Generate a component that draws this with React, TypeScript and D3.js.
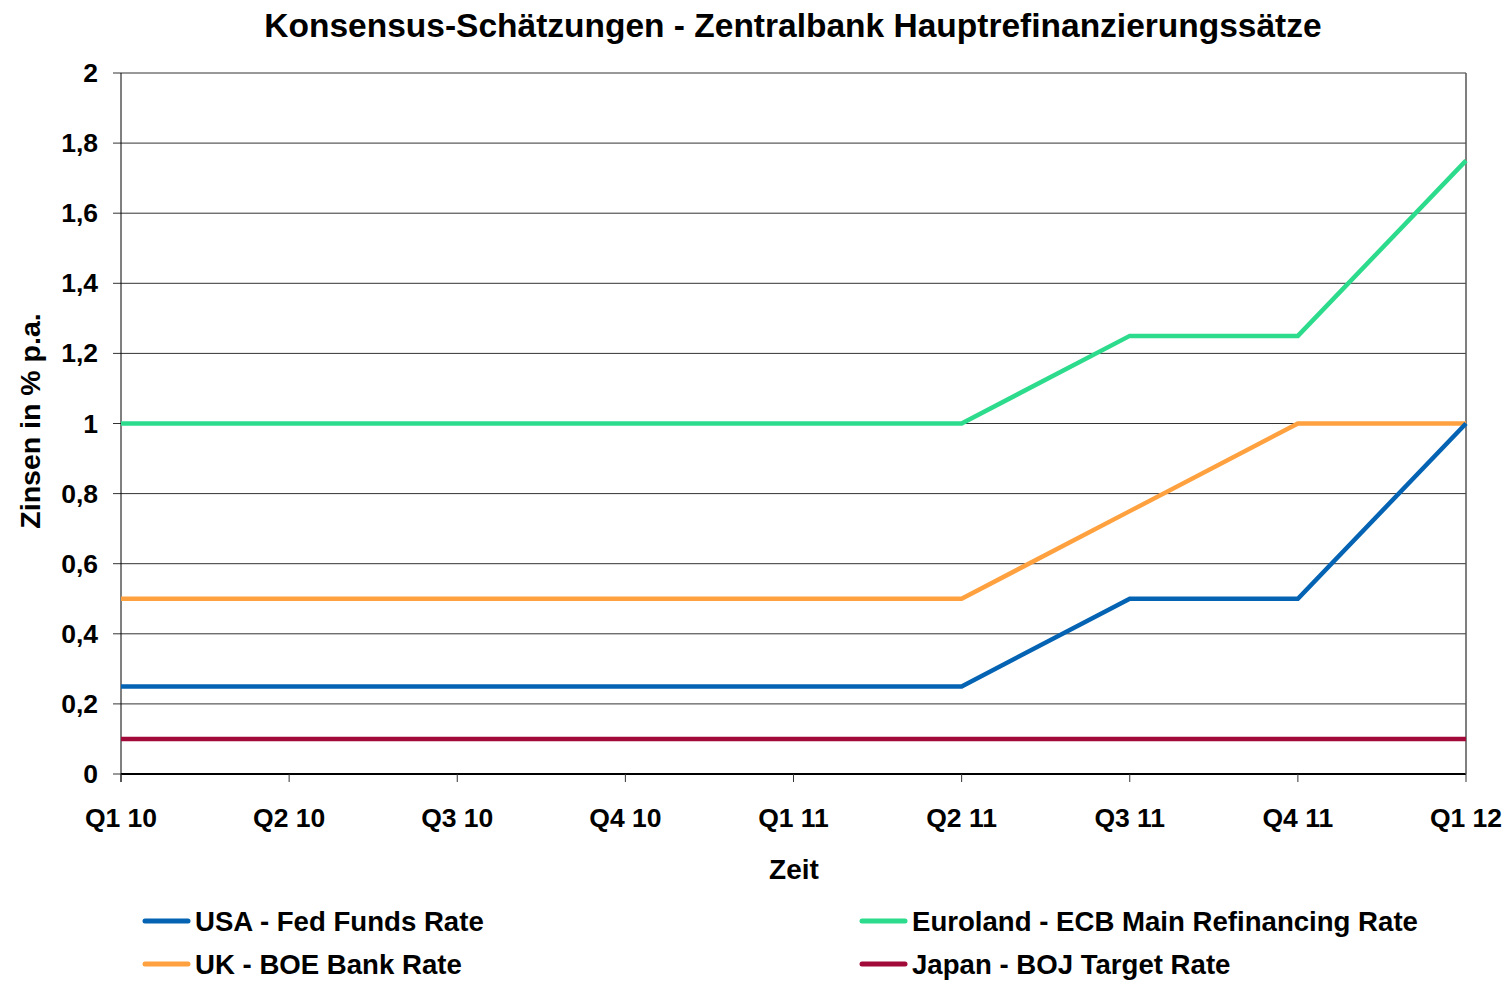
import React from "react";
import * as d3 from "d3";

const categories = ["Q1 10", "Q2 10", "Q3 10", "Q4 10", "Q1 11", "Q2 11", "Q3 11", "Q4 11", "Q1 12"];
const usaValues = [0.25, 0.25, 0.25, 0.25, 0.25, 0.25, 0.5, 0.5, 1];
const ukValues = [0.5, 0.5, 0.5, 0.5, 0.5, 0.5, 0.75, 1, 1];
const euroValues = [1, 1, 1, 1, 1, 1, 1.25, 1.25, 1.75];
const japanValues = [0.1, 0.1, 0.1, 0.1, 0.1, 0.1, 0.1, 0.1, 0.1];
const yTicks = [0, 0.2, 0.4, 0.6, 0.8, 1, 1.2, 1.4, 1.6, 1.8, 2];

const series = [
  { name: "USA - Fed Funds Rate", values: usaValues, color: "#0563b3" },
  { name: "Euroland - ECB Main Refinancing Rate", values: euroValues, color: "#2ddb8c" },
  { name: "UK - BOE Bank Rate", values: ukValues, color: "#ffa13f" },
  { name: "Japan - BOJ Target Rate", values: japanValues, color: "#a20a3a" },
];

const W = 1511, H = 981;
const left = 121, right = 1466, top = 73, bottom = 774;
const font = "'Liberation Sans', Arial, sans-serif";

export default function App() {
  const x = d3.scalePoint<string>().domain(categories).range([left, right]);
  const y = d3.scaleLinear().domain([0, 2]).range([bottom, top]);
  const line = d3.line<number>().x((_, i) => x(categories[i])!).y((d) => y(d));
  const fmt = (v: number) => String(+v.toFixed(1)).replace(".", ",");

  const legendPos = [
    { lx: 145, ty: 921 },
    { lx: 862, ty: 921 },
    { lx: 145, ty: 964 },
    { lx: 862, ty: 964 },
  ];

  return (
    <svg width={W} height={H} style={{ position: "absolute", left: 0, top: 0, background: "#fff" }} fontFamily={font}>
      <rect x={0} y={0} width={W} height={H} fill="#fff" />
      <text x={793} y={25} textAnchor="middle" dominantBaseline="central" fontSize={33.5} fontWeight="bold">
        Konsensus-Schätzungen - Zentralbank Hauptrefinanzierungssätze
      </text>
      {yTicks.map((t) => (
        <g key={t}>
          <line x1={left} x2={right} y1={y(t)} y2={y(t)} stroke={t === 0 ? "#000" : "#333"} strokeWidth={t === 0 ? 2 : 1} />
          <line x1={113} x2={left} y1={y(t)} y2={y(t)} stroke="#333" strokeWidth={1} />
          <text x={98} y={y(t)} textAnchor="end" dominantBaseline="central" fontSize={26.5} fontWeight="bold">
            {fmt(t)}
          </text>
        </g>
      ))}
      <line x1={left} x2={left} y1={top} y2={bottom + 8} stroke="#000" strokeWidth={1} />
      <line x1={right} x2={right} y1={top} y2={bottom} stroke="#555" strokeWidth={1.5} />
      {categories.map((c) => (
        <g key={c}>
          <line x1={x(c)!} x2={x(c)!} y1={bottom} y2={bottom + 8} stroke="#333" strokeWidth={1} />
          <text x={x(c)!} y={818} textAnchor="middle" dominantBaseline="central" fontSize={26.5} fontWeight="bold">
            {c}
          </text>
        </g>
      ))}
      <text x={794} y={869} textAnchor="middle" dominantBaseline="central" fontSize={28} fontWeight="bold">
        Zeit
      </text>
      <text
        transform={`translate(30,421) rotate(-90)`}
        textAnchor="middle"
        dominantBaseline="central"
        fontSize={28.5}
        fontWeight="bold"
      >
        Zinsen in % p.a.
      </text>
      {[...series].reverse().map((s) => (
        <path key={s.name} d={line(s.values)!} fill="none" stroke={s.color} strokeWidth={4.5} strokeLinejoin="miter" />
      ))}
      {series.map((s, i) => (
        <g key={s.name}>
          <line x1={legendPos[i].lx} x2={legendPos[i].lx + 43} y1={legendPos[i].ty} y2={legendPos[i].ty} stroke={s.color} strokeWidth={5} strokeLinecap="round" />
          <text x={legendPos[i].lx + 50} y={legendPos[i].ty} dominantBaseline="central" fontSize={27.6} fontWeight="bold">
            {s.name}
          </text>
        </g>
      ))}
    </svg>
  );
}
